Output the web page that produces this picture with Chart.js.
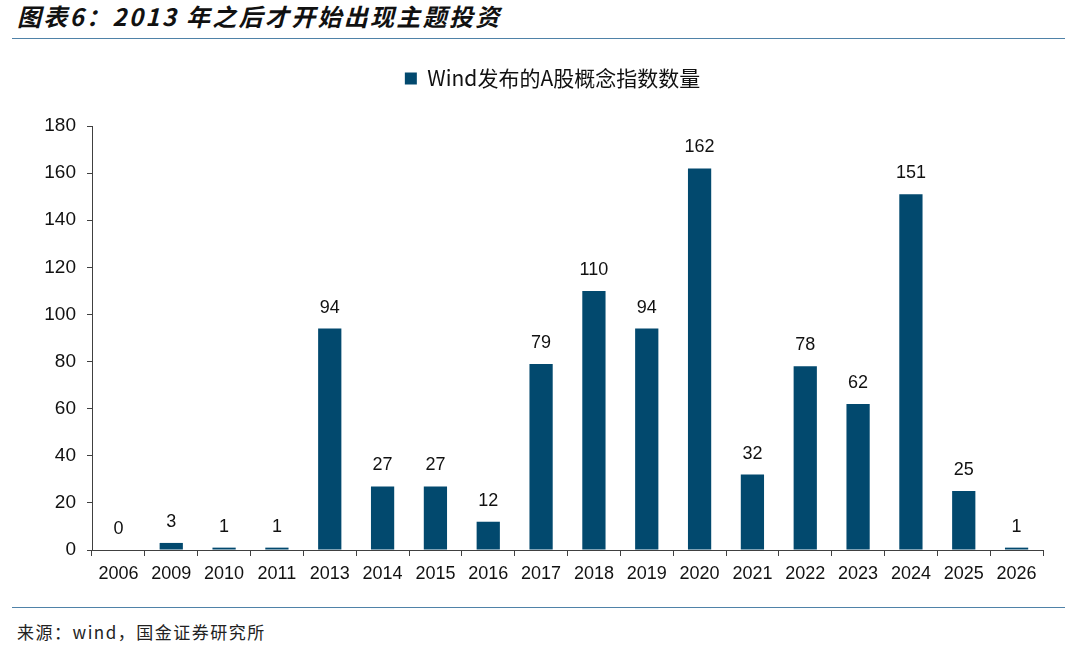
<!DOCTYPE html>
<html>
<head>
<meta charset="utf-8">
<script src="https://cdn.jsdelivr.net/npm/chart.js@4/dist/chart.umd.min.js"></script>
<style>
  html, body { margin: 0; padding: 0; background: #fff; }
  body { width: 1080px; height: 649px; position: relative; overflow: hidden; font-family: "Liberation Sans", Arial, sans-serif; }
  #title { position: absolute; left: 17px; top: -2px; font: italic bold 24px "Noto Sans CJK SC", sans-serif; letter-spacing: 2.3px; color: #111; white-space: nowrap; }
  .rule { position: absolute; left: 12px; width: 1053px; height: 0; border-top: 1.5px solid #4f82a8; }
  #source { position: absolute; left: 17px; top: 619px; font: 17px "Noto Sans CJK SC", sans-serif; letter-spacing: 1.5px; color: #222; white-space: nowrap; }
  #wrap { position: absolute; left: 0; top: 45px; width: 1080px; height: 555px; }
</style>
</head>
<body>
<div id="title">图表6：2013 年之后才开始出现主题投资</div>
<div class="rule" style="top:38px"></div>
<div id="wrap"><canvas id="chart"></canvas></div>
<div class="rule" style="top:607px"></div>
<div id="source">来源：wind，国金证券研究所</div>
<script>
  // ===== Data =====
  const years = ["2006", "2009", "2010", "2011", "2013", "2014", "2015", "2016", "2017",
                 "2018", "2019", "2020", "2021", "2022", "2023", "2024", "2025", "2026"];
  const indexCounts = [0, 3, 1, 1, 94, 27, 27, 12, 79, 110, 94, 162, 32, 78, 62, 151, 25, 1];
  const seriesName = "Wind发布的A股概念指数数量";
  const yTicks = [0, 20, 40, 60, 80, 100, 120, 140, 160, 180];

  const BAR_COLOR = "#02496e";
  const AXIS_COLOR = "#404040";
  const labelFont = '18px "Liberation Sans", Arial, sans-serif';

  // value labels above bars
  const valueLabels = {
    id: "valueLabels",
    afterDatasetsDraw(chart) {
      const ctx = chart.ctx;
      const meta = chart.getDatasetMeta(0);
      ctx.save();
      ctx.font = labelFont;
      ctx.fillStyle = "#111";
      ctx.textAlign = "center";
      ctx.textBaseline = "middle";
      meta.data.forEach((bar, i) => {
        ctx.fillText(String(indexCounts[i]), bar.x, bar.y - 21);
      });
      ctx.restore();
    }
  };

  // legend: fixed height, nudged right to sit where the original has it
  const legendTweak = {
    id: "legendTweak",
    afterInit(chart) {
      const legend = chart.legend;
      const origFit = legend.fit;
      legend.fit = function () {
        origFit.call(this);
        this.height = 81;
      };
      const origDraw = legend.draw;
      legend.draw = function () {
        chart.ctx.save();
        chart.ctx.translate(31, 0);
        origDraw.call(this);
        chart.ctx.restore();
      };
    }
  };

  new Chart(document.getElementById("chart"), {
    type: "bar",
    data: {
      labels: years,
      datasets: [{
        label: seriesName,
        data: indexCounts,
        backgroundColor: BAR_COLOR,
        barPercentage: 0.44,
        categoryPercentage: 1.0
      }]
    },
    options: {
      responsive: true,
      maintainAspectRatio: false,
      animation: false,
      layout: { padding: { top: 0, right: 37, left: 0, bottom: 0 } },
      plugins: {
        legend: {
          position: "top",
          labels: {
            boxWidth: 12,
            boxHeight: 12,
            padding: 23,
            color: "#111",
            font: { size: 21, family: '"Noto Sans CJK SC", "Liberation Sans", sans-serif' }
          }
        },
        tooltip: { enabled: false }
      },
      scales: {
        x: {
          grid: { display: true, drawOnChartArea: false, drawTicks: true, tickLength: 6, color: AXIS_COLOR, offset: true },
          border: { display: true, color: AXIS_COLOR, width: 1 },
          ticks: { color: "#111", font: { size: 18, family: '"Liberation Sans", Arial, sans-serif' }, padding: 7, maxRotation: 0, autoSkip: false },
          afterFit(scale) { scale.height = 50; }
        },
        y: {
          min: 0,
          max: 180,
          afterBuildTicks(scale) { scale.ticks = yTicks.map(v => ({ value: v })); },
          grid: { display: true, drawOnChartArea: false, drawTicks: true, tickLength: 5, color: AXIS_COLOR },
          border: { display: true, color: AXIS_COLOR, width: 1 },
          ticks: { color: "#111", font: { size: 19, family: '"Liberation Sans", Arial, sans-serif' }, padding: 11 },
          afterFit(scale) { scale.width = 92; }
        }
      }
    },
    plugins: [valueLabels, legendTweak]
  });
</script>
</body>
</html>
